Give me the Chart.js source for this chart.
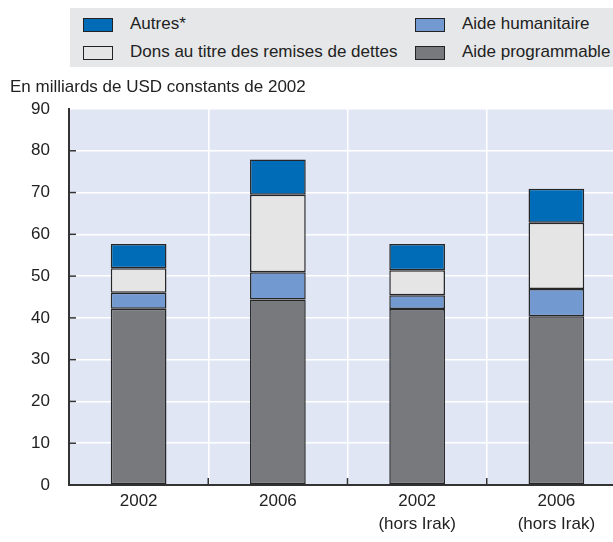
<!DOCTYPE html>
<html>
<head>
<meta charset="utf-8">
<script src="https://cdn.jsdelivr.net/npm/chart.js@4/dist/chart.umd.min.js"></script>
<style>
html,body{margin:0;padding:0;background:#fff;overflow:hidden;width:613px;height:542px;}
#wrap{position:absolute;left:0;top:0;width:640px;height:542px;}
#leg{position:absolute;left:70px;top:8px;width:543px;height:59px;background:#e6e7e8;}
.txt{position:absolute;font-family:"Liberation Sans",Arial,sans-serif;font-size:17px;line-height:22px;color:#222;white-space:nowrap;}
.sw{position:absolute;width:28px;height:12px;border:1.3px solid #222;box-sizing:content-box;}
</style>
</head>
<body>
<div id="wrap"><canvas id="c" width="640" height="542"></canvas></div>
<div id="leg"></div>
<div class="txt" id="ytitle" style="left:10px;top:76px;"></div>
<script>
// ---- data ----
const categories = [["2002"], ["2006"], ["2002", "(hors Irak)"], ["2006", "(hors Irak)"]];
const seriesNames = ["Aide programmable", "Aide humanitaire", "Dons au titre des remises de dettes", "Autres*"];
const aideProgrammable = [42.2, 44.4, 42.1, 40.4];
const aideHumanitaire = [3.8, 6.5, 3.3, 6.5];
const donsRemisesDettes = [5.9, 18.6, 6.0, 15.9];
const autres = [5.8, 8.4, 6.3, 8.1];
const yMin = 0, yMax = 90, yStep = 10;
const yTitle = "En milliards de USD constants de 2002";

// ---- style ----
const colors = ["#78797d", "#7299d0", "#e5e5e6", "#006bb6"];
const plotBg = "#e0e6f4";
const FONT = "'Liberation Sans',Arial,sans-serif";

document.getElementById('ytitle').textContent = yTitle;

// legend (HTML): order as in reference
const legendLayout = [
  {idx: 3, left: 13, top: 10},
  {idx: 2, left: 13, top: 38},
  {idx: 1, left: 345, top: 10},
  {idx: 0, left: 345, top: 38}
];
const leg = document.getElementById('leg');
legendLayout.forEach(l => {
  const sw = document.createElement('div');
  sw.className = 'sw';
  sw.style.left = l.left + 'px';
  sw.style.top = (l.top) + 'px';
  sw.style.background = colors[l.idx];
  leg.appendChild(sw);
  const t = document.createElement('div');
  t.className = 'txt';
  t.style.left = (l.left + 47) + 'px';
  t.style.top = (l.top - 5) + 'px';
  t.textContent = seriesNames[l.idx];
  leg.appendChild(t);
});

const values = [aideProgrammable, aideHumanitaire, donsRemisesDettes, autres];

const decor = {
  id: 'decor',
  beforeDraw(chart) {
    const {ctx, chartArea: a} = chart;
    ctx.save();
    ctx.fillStyle = plotBg;
    ctx.fillRect(a.left, a.top, a.right - a.left, a.bottom - a.top);
    ctx.restore();
  },
  afterDraw(chart) {
    const {ctx, chartArea: a, scales: {x, y}} = chart;
    ctx.save();
    ctx.strokeStyle = '#333';
    ctx.lineWidth = 1.5;
    y.ticks.forEach(t => {
      if (t.value === yMin || t.value === yMax) return;
      const py = y.getPixelForValue(t.value);
      ctx.beginPath(); ctx.moveTo(a.left, py); ctx.lineTo(a.left + 7, py); ctx.stroke();
    });
    for (let i = 1; i < categories.length; i++) {
      const px = (x.getPixelForValue(i - 1) + x.getPixelForValue(i)) / 2;
      ctx.beginPath(); ctx.moveTo(px, a.bottom); ctx.lineTo(px, a.bottom - 7); ctx.stroke();
    }
    ctx.restore();
  }
};

new Chart(document.getElementById('c'), {
  type: 'bar',
  data: {
    labels: categories,
    datasets: seriesNames.map((n, i) => ({
      label: n,
      data: values[i],
      backgroundColor: colors[i],
      borderColor: '#262626',
      borderWidth: 1.5,
      borderSkipped: false,
      barPercentage: 0.4,
      categoryPercentage: 1.0
    }))
  },
  options: {
    responsive: false,
    animation: false,
    layout: {padding: {top: 109, left: 0, right: 14, bottom: 0}},
    plugins: {legend: {display: false}, tooltip: {enabled: false}},
    scales: {
      x: {
        stacked: true,
        grid: {color: '#ffffff', lineWidth: 1.5, drawTicks: false, offset: true},
        border: {display: true, color: '#333', width: 2},
        ticks: {color: '#222', padding: 4, font: {family: FONT, size: 17, lineHeight: 1.4}, maxRotation: 0, autoSkip: false},
        afterFit(s) { s.height = 57; }
      },
      y: {
        stacked: true,
        min: yMin, max: yMax,
        ticks: {stepSize: yStep, color: '#222', padding: 19, font: {family: FONT, size: 17}},
        grid: {color: '#ffffff', lineWidth: 1.5, drawTicks: false},
        border: {display: true, color: '#333', width: 2},
        afterFit(s) { s.width = 69; }
      }
    }
  },
  plugins: [decor]
});
</script>
</body>
</html>
